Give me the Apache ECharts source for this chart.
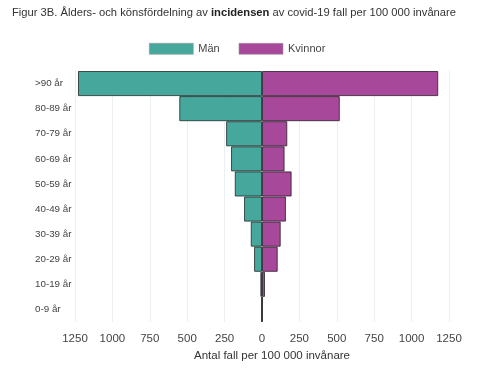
<!DOCTYPE html>
<html>
<head>
<meta charset="utf-8">
<script src="https://cdn.jsdelivr.net/npm/echarts@6/dist/echarts.min.js"></script>
<style>
  html, body { margin: 0; padding: 0; background: #fff; }
  #chart { width: 502px; height: 376px; }
</style>
</head>
<body>
<div id="chart"></div>
<script>
// age groups, bottom to top
var ageGroups = ['0-9 år', '10-19 år', '20-29 år', '30-39 år', '40-49 år', '50-59 år', '60-69 år', '70-79 år', '80-89 år', '>90 år'];
// cases per 100 000
var men = [2, 11, 53, 75, 120, 182, 207, 240, 553, 1230];
var women = [2, 20, 105, 125, 160, 198, 151, 169, 520, 1178];

var chart = echarts.init(document.getElementById('chart'));

var font = 'Liberation Sans';

var option = {
  animation: false,
  backgroundColor: '#fff',
  textStyle: { fontFamily: font },
  title: {
    left: 7,
    top: 2,
    text: '{n|Figur 3B. Ålders- och könsfördelning av }{b|incidensen}{n| av covid-19 fall per 100 000 invånare}',
    textStyle: {
      fontWeight: 'normal',
      rich: {
        n: { fontSize: 11.2, color: '#333', fontWeight: 'normal', fontFamily: font },
        b: { fontSize: 11.2, color: '#222', fontWeight: 'bold', fontFamily: font }
      }
    }
  },
  legend: {
    top: 38,
    left: 144,
    itemWidth: 44,
    itemHeight: 11,
    itemGap: 19,
    icon: 'rect',
    itemStyle: { borderColor: '#999', borderWidth: 0.6 },
    textStyle: { fontSize: 11, color: '#444' },
    data: ['Män', 'Kvinnor']
  },
  grid: { left: 75, right: 53, top: 71, bottom: 54 },
  xAxis: {
    type: 'value',
    min: -1250,
    max: 1250,
    interval: 250,
    axisLine: { show: false },
    axisTick: { show: false },
    axisLabel: {
      fontSize: 11.5,
      color: '#444',
      margin: 11,
      formatter: function (v) { return Math.abs(v); }
    },
    splitLine: { lineStyle: { color: '#eaf0f2', width: 1 } },
    name: 'Antal fall per 100 000 invånare',
    nameLocation: 'middle',
    nameGap: 22,
    nameTextStyle: { fontSize: 11.5, color: '#333', padding: [0, 0, 0, 20] }
  },
  yAxis: {
    type: 'category',
    data: ageGroups,
    axisLine: { show: false },
    axisTick: { show: false },
    splitLine: { show: false },
    axisLabel: { fontSize: 9.8, color: '#444', align: 'left', margin: 40 }
  },
  series: [
    {
      name: 'Män',
      type: 'bar',
      stack: 'pop',
      barCategoryGap: 0,
      data: men.map(function (v) { return -v; }),
      itemStyle: { color: '#46a89c', borderColor: 'rgba(30,40,40,0.8)', borderWidth: 1 }
    },
    {
      name: 'Kvinnor',
      type: 'bar',
      stack: 'pop',
      barCategoryGap: 0,
      data: women,
      itemStyle: { color: '#a8489a', borderColor: 'rgba(40,30,40,0.8)', borderWidth: 1 }
    }
  ]
};

chart.setOption(option);
</script>
</body>
</html>
